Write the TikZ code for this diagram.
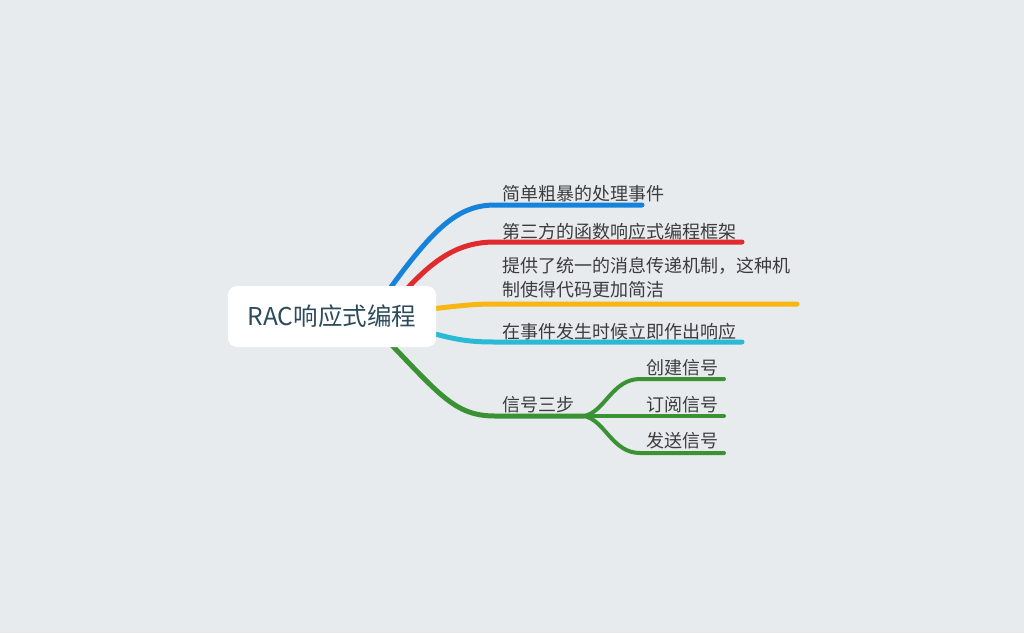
\documentclass[tikz,border=0pt]{standalone}
\usepackage{fontspec}
\setmainfont{Noto Sans CJK SC}
\definecolor{bg}{HTML}{E8EBEE}
\definecolor{cblue}{HTML}{1683DA}
\definecolor{cred}{HTML}{E02A2E}
\definecolor{cyellow}{HTML}{F7B614}
\definecolor{ccyan}{HTML}{2BBAD6}
\definecolor{cgreen}{HTML}{3A9235}
\definecolor{ctext}{HTML}{3C3C3C}
\definecolor{ctitle}{HTML}{2C4B5C}
\begin{document}
\begin{tikzpicture}[x=1pt,y=-1pt,
  branch/.style={line width=5pt,line cap=round},
  sub/.style={line width=4pt,line cap=round,cgreen},
  lbl/.style={anchor=base west,inner sep=0pt,font=\fontsize{18}{24}\selectfont,text=ctext},
  root/.style={fill=white,rounded corners=9pt,minimum width=208pt,minimum height=61pt,
    font=\fontsize{24.5}{28}\selectfont,text=ctitle}]
\fill[bg] (0,0) rectangle (1024,633);
\useasboundingbox (0,0) rectangle (1024,633);

% anchor points
\coordinate (sB) at (378,305);
\coordinate (sR) at (395,302);
\coordinate (sY) at (425,309.5);
\coordinate (sC) at (425,331);
\coordinate (sG) at (384,337);
\coordinate (kB) at (495,205);
\coordinate (kR) at (495,242);
\coordinate (kY) at (495,304);
\coordinate (kC) at (495,342);
\coordinate (kG) at (495,416);
\coordinate (eB) at (642,205);
\coordinate (eR) at (742,242);
\coordinate (eY) at (797,304);
\coordinate (eC) at (742,342);
\coordinate (j) at (584,416);
\coordinate (k1) at (640,379);
\coordinate (k2) at (640,416);
\coordinate (k3) at (640,453);
\coordinate (e1) at (724,379);
\coordinate (e2) at (724,416);
\coordinate (e3) at (724,453);

\draw[branch,cblue] (sB) .. controls (430,232) and (455,205) .. (kB) -- (eB);
\draw[branch,cred] (sR) .. controls (430,262) and (455,242) .. (kR) -- (eR);
\draw[branch,cyellow] (sY) .. controls (460,306) and (470,304) .. (kY) -- (eY);
\draw[branch,ccyan] (sC) .. controls (455,340) and (470,342) .. (kC) -- (eC);
\draw[branch,cgreen] (sG) .. controls (440,395) and (455,416) .. (kG) -- (j);
\draw[sub] (j) .. controls (605,412) and (612,379) .. (k1) -- (e1);
\draw[sub] (j) -- (k2) -- (e2);
\draw[sub] (j) .. controls (605,420) and (612,453) .. (k3) -- (e3);

\node[root] (r) at (332,316.5) {RAC响应式编程};

\node[lbl] (t1) at (502,200) {简单粗暴的处理事件};
\node[lbl] (t2) at (502,238) {第三方的函数响应式编程框架};
\node[lbl,align=left,anchor=north west] (t3) at (502,257) {提供了统一的消息传递机制，这种机\\制使得代码更加简洁};
\node[lbl] (t4) at (502,338) {在事件发生时候立即作出响应};
\node[lbl] (t5) at (502,411) {信号三步};
\node[lbl] (s1) at (646,374.5) {创建信号};
\node[lbl] (s2) at (646,411) {订阅信号};
\node[lbl] (s3) at (646,447.5) {发送信号};
\end{tikzpicture}
\end{document}
